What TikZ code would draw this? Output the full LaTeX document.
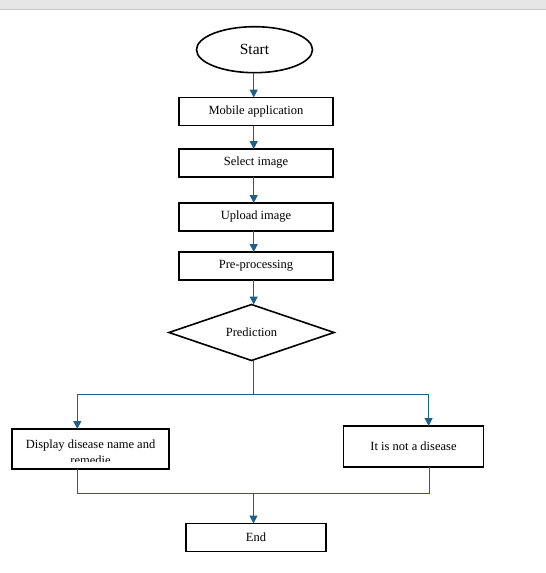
\documentclass[tikz,border=0pt]{standalone}
\usepackage{fontspec}
\setmainfont{Liberation Serif}
\usetikzlibrary{shapes.geometric,arrows.meta}
\definecolor{flowline}{HTML}{1F6089}
\definecolor{barfill}{HTML}{E6E6E6}
\definecolor{barline}{HTML}{C8C8C8}

\begin{document}
\begin{tikzpicture}[x=1pt,y=-1pt,inner sep=0pt,outer sep=0pt,line width=1.6pt,
procbox/.style={draw,rectangle,minimum width=154pt,minimum height=28pt,font=\fontsize{12.5}{14}\selectfont},
endbox/.style={draw,rectangle,minimum width=140pt,minimum height=28pt,font=\fontsize{12.5}{14}\selectfont},
flow/.style={draw=flowline,line width=1pt},
>={Triangle[width=8pt,length=8pt]}]

\useasboundingbox (0,0) rectangle (546,573);
\fill[barfill] (0,0) rectangle (546,9);
\draw[barline,line width=1pt] (0,9.5) -- (546,9.5);

\draw (254.5,49.7) node[draw,ellipse,minimum width=116pt,minimum height=46pt,font=\fontsize{15.5}{18}\selectfont] (start) {Start};
\draw (256,111.5) node[procbox] (mobile) {Mobile application};
\draw (256,163) node[procbox] (select) {Select image};
\draw (256,217) node[procbox] (upload) {Upload image};
\draw (256,266) node[procbox] (prep) {Pre-processing};
\draw (251.5,332.5) node[draw,diamond,aspect=2.95,minimum width=165pt,minimum height=56pt,font=\fontsize{12.5}{14}\selectfont] (pred) {Prediction};
\draw (90.5,449) node[procbox,minimum width=157pt,minimum height=40pt] (disp) {};
\draw (413.5,446.5) node[procbox,minimum width=140pt,minimum height=41pt] (notdis) {It is not a disease};
\draw (256,537.5) node[endbox] (end) {End};

% text of the left box is cut off above its lower edge
\coordinate (dispcut) at (169,461.5);
\begin{scope}
\clip (disp.north west) rectangle (dispcut);
\draw (90.5,452) node[align=center,font=\fontsize{12.5}{14}\selectfont] (disptext) {Display disease name and\\[1.5pt]remedie};
\end{scope}

\coordinate (axis) at (253.7,0);
\coordinate (split) at (253.5,394.3);
\coordinate (lft) at (77.3,394.3);
\coordinate (rgt) at (428.6,394.3);
\coordinate (rgtb) at (429.3,493.3);
\coordinate (join) at (253.5,493.3);

\draw[flow,->] (axis |- start.south) -- (axis |- mobile.north);
\draw[flow,->] (axis |- mobile.south) -- (axis |- select.north);
\draw[flow,->] (axis |- select.south) -- (axis |- upload.north);
\draw[flow,->] (axis |- upload.south) -- (axis |- prep.north);
\draw[flow,->] (axis |- prep.south) -- (axis |- pred.north);
\draw[flow] (split |- pred.south) -- (split);
\draw[flow,->] (split) -- (lft) -- (lft |- disp.north);
\draw[flow,->] (split) -- (rgt) -- (rgt |- notdis.north);
\draw[flow] (lft |- disp.south) -- (lft |- join) -- (rgtb) -- (rgtb |- notdis.south);
\draw[flow,->] (join) -- (join |- end.north);
\end{tikzpicture}
\end{document}
